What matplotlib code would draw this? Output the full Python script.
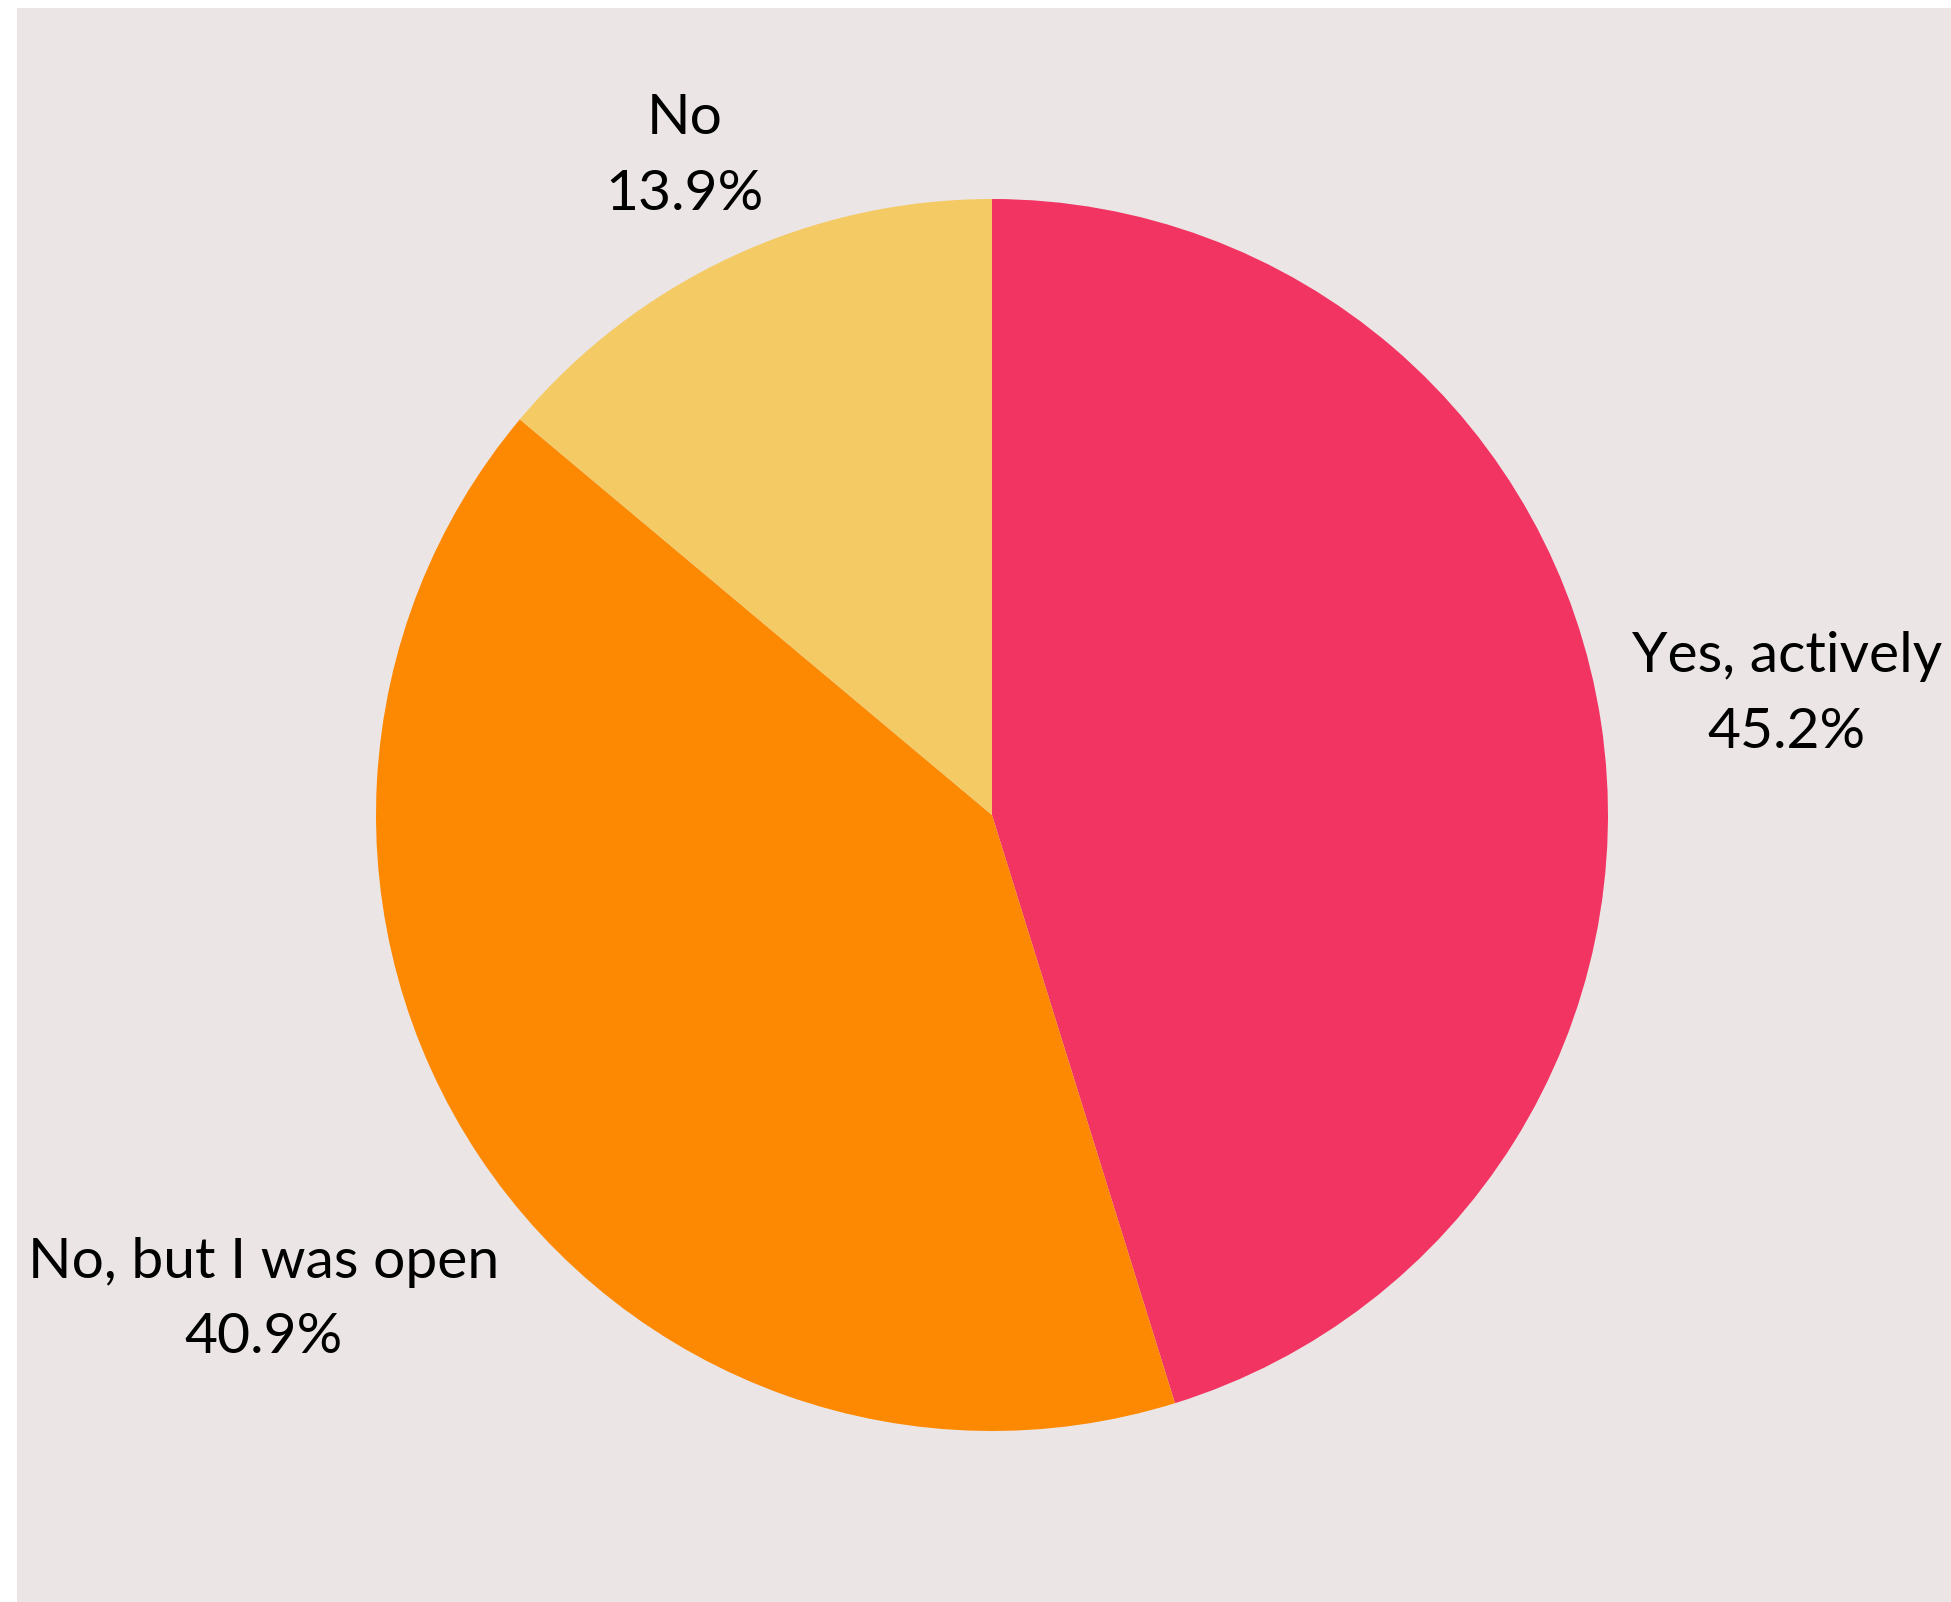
import numpy as np
import matplotlib.pyplot as plt

labels = ["Yes, actively", "No, but I was open", "No"]
shares = [45.2, 40.9, 13.9]
colors = ["#f23463", "#fd8902", "#f3ca64"]
# how far out each label's centre sits, in pie radii
label_dist = [1.305, 1.42, 1.18]

W, H = 1951, 1602
fig = plt.figure(figsize=(W / 100, H / 100), dpi=100)
fig.patch.set_facecolor("white")

# grey panel with a thin white margin on left and top
bg = fig.add_axes([17 / W, 0, 1 - 17 / W, 1 - 8 / H])
bg.set_facecolor("#ebe6e5")
bg.set_xticks([])
bg.set_yticks([])
for s in bg.spines.values():
    s.set_visible(False)

cx, cy, r = 992, 815, 616
ax = fig.add_axes([(cx - r) / W, (H - cy - r) / H, 2 * r / W, 2 * r / H])
ax.set_facecolor("none")
wedges, _ = ax.pie(shares, colors=colors, startangle=90, counterclock=False,
                   radius=1, wedgeprops=dict(linewidth=0))
ax.set_xlim(-1, 1)
ax.set_ylim(-1, 1)
ax.set_aspect("equal")
ax.axis("off")

for w, lab, val, d in zip(wedges, labels, shares, label_dist):
    ang = np.deg2rad((w.theta1 + w.theta2) / 2)
    ax.text(d * np.cos(ang), d * np.sin(ang), f"{lab}\n{val}%",
            ha="center", va="center", multialignment="center",
            fontsize=41, family="Lato", linespacing=1.6, clip_on=False)

plt.savefig("out.png", dpi=100)
